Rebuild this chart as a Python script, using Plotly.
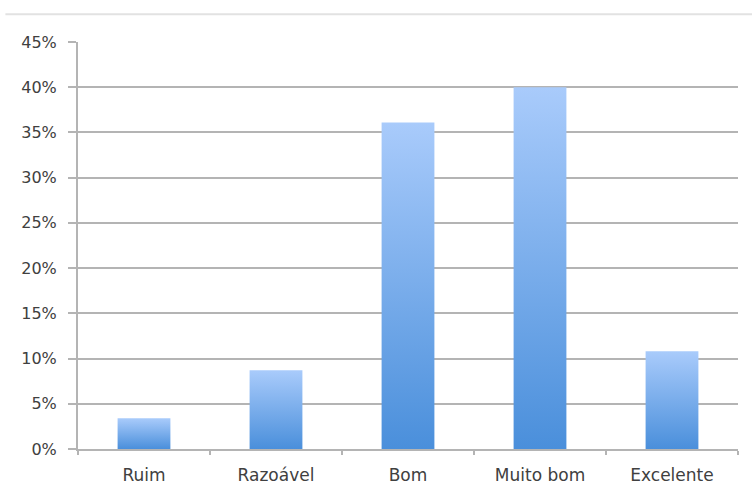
import plotly.graph_objects as go

categories = ["Ruim", "Razoável", "Bom", "Muito bom", "Excelente"]
values = [0.034, 0.087, 0.361, 0.400, 0.108]
y_ticks = [0, 0.05, 0.10, 0.15, 0.20, 0.25, 0.30, 0.35, 0.40, 0.45]

BAR_HALF = 0.2
TOP_COLOR = "#a9cbfb"
BOTTOM_COLOR = "#4a8fdb"
TEXT_COLOR = "#404040"
GRID_COLOR = "#b4b4b4"
FONT = "DejaVu Sans"

fig = go.Figure()

# invisible bars carry the category axis
fig.add_trace(go.Bar(
    x=categories, y=values, marker=dict(color="rgba(0,0,0,0)", line=dict(width=0)),
    hoverinfo="skip", showlegend=False, xaxis="x", yaxis="y",
))

# gradient-filled bars drawn on an overlaid numeric axis
for i, v in enumerate(values):
    fig.add_trace(go.Scatter(
        x=[i - BAR_HALF, i - BAR_HALF, i + BAR_HALF, i + BAR_HALF, i - BAR_HALF],
        y=[0, v, v, 0, 0],
        mode="lines", line=dict(width=0, color=BOTTOM_COLOR),
        fill="toself",
        fillgradient=dict(type="vertical",
                          colorscale=[[0, BOTTOM_COLOR], [1, TOP_COLOR]]),
        hoverinfo="skip", showlegend=False, xaxis="x2", yaxis="y",
    ))

fig.update_layout(
    width=752, height=495,
    margin=dict(l=78, r=14, t=42, b=46),
    paper_bgcolor="white", plot_bgcolor="white",
    font=dict(family=FONT, size=16, color=TEXT_COLOR),
    xaxis=dict(
        type="category", categoryorder="array", categoryarray=categories,
        range=[-0.5, 4.5], tickson="boundaries", automargin=False,
        ticks="outside", ticklen=4, tickcolor=GRID_COLOR, tickwidth=1.5,
        showline=True, linecolor=GRID_COLOR, linewidth=2,
        showgrid=False, ticklabelstandoff=10,
        tickfont=dict(family=FONT, size=17, color=TEXT_COLOR),
    ),
    xaxis2=dict(overlaying="x", range=[-0.5, 4.5], visible=False),
    yaxis=dict(
        range=[0, 0.45], tickvals=y_ticks, tickformat=".0%", automargin=False,
        ticks="outside", ticklen=8, tickcolor=GRID_COLOR, tickwidth=1.5,
        showline=True, linecolor=GRID_COLOR, linewidth=2,
        showgrid=True, gridcolor=GRID_COLOR, gridwidth=2,
        zeroline=False, ticklabelstandoff=8,
        tickfont=dict(family=FONT, size=16, color=TEXT_COLOR),
    ),
    shapes=[dict(type="line", xref="paper", yref="paper",
                 x0=-0.11, x1=1.03, y0=1.068, y1=1.068,
                 line=dict(color="#e2e2e2", width=2))],
)

fig.write_html("out.html")
